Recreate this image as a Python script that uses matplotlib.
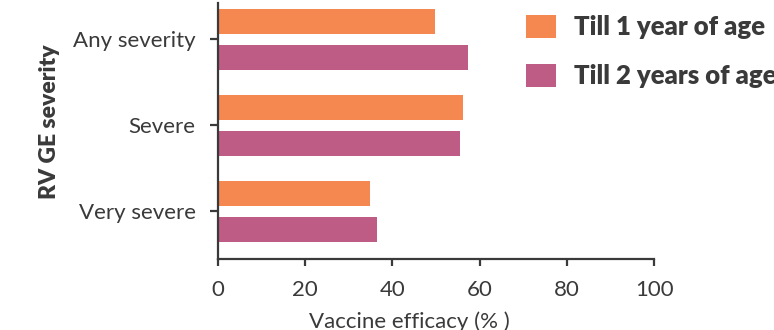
import matplotlib
matplotlib.use("Agg")
import matplotlib.pyplot as plt
import numpy as np

# datos
categorias = ["Very severe", "Severe", "Any severity"]
hasta_1_anio = [35.0, 56.3, 49.9]
hasta_2_anios = [36.6, 55.6, 57.3]
serie_nombres = ["Till 1 year of age", "Till 2 years of age"]
x_ticks = [0, 20, 40, 60, 80, 100]

naranja = "#F48850"
magenta = "#BE5C85"
gris = "#3a3a3a"

plt.rcParams["font.family"] = ["Lato", "DejaVu Sans"]

fig = plt.figure(figsize=(7.74, 3.30), dpi=100)
ax = fig.add_axes([0.2813, 0.2142, 0.8450 - 0.2813, 0.99 - 0.2142])

y = np.arange(len(categorias))
alto = 0.287
desp = 0.209
b1 = ax.barh(y + desp, hasta_1_anio, height=alto, color=naranja, label=serie_nombres[0])
b2 = ax.barh(y - desp, hasta_2_anios, height=alto, color=magenta, label=serie_nombres[1])

ax.set_xlim(0, 100)
ax.set_ylim(-0.556, 2.42)
ax.set_xticks(x_ticks)
ax.set_yticks(y)
ax.set_yticklabels(categorias)

for lado in ["top", "right"]:
    ax.spines[lado].set_visible(False)
for lado in ["left", "bottom"]:
    ax.spines[lado].set_color(gris)
    ax.spines[lado].set_linewidth(1.6)

ax.tick_params(axis="x", length=5, width=1.6, color=gris, labelcolor=gris, labelsize=16, pad=10)
ax.tick_params(axis="y", length=6, width=1.6, color=gris, labelcolor=gris, labelsize=16, pad=10)

ax.set_xlabel("Vaccine efficacy (% )", fontsize=16, color=gris)
ax.xaxis.set_label_coords(0.44, -0.205)
ax.set_ylabel("RV GE severity", fontsize=16.5, color=gris, fontweight="heavy")
ax.yaxis.set_label_coords(-0.362, 0.538)

leg = fig.legend(handles=[b1, b2], loc="upper left", bbox_to_anchor=(0.679, 0.955),
                 bbox_transform=fig.transFigure, frameon=False, borderpad=0,
                 borderaxespad=0, handlelength=1.2, handleheight=1.01,
                 handletextpad=0.67, labelspacing=0.96,
                 prop={"size": 18.5, "weight": "heavy"})
for t in leg.get_texts():
    t.set_color(gris)

fig.savefig("out.png", dpi=100)
